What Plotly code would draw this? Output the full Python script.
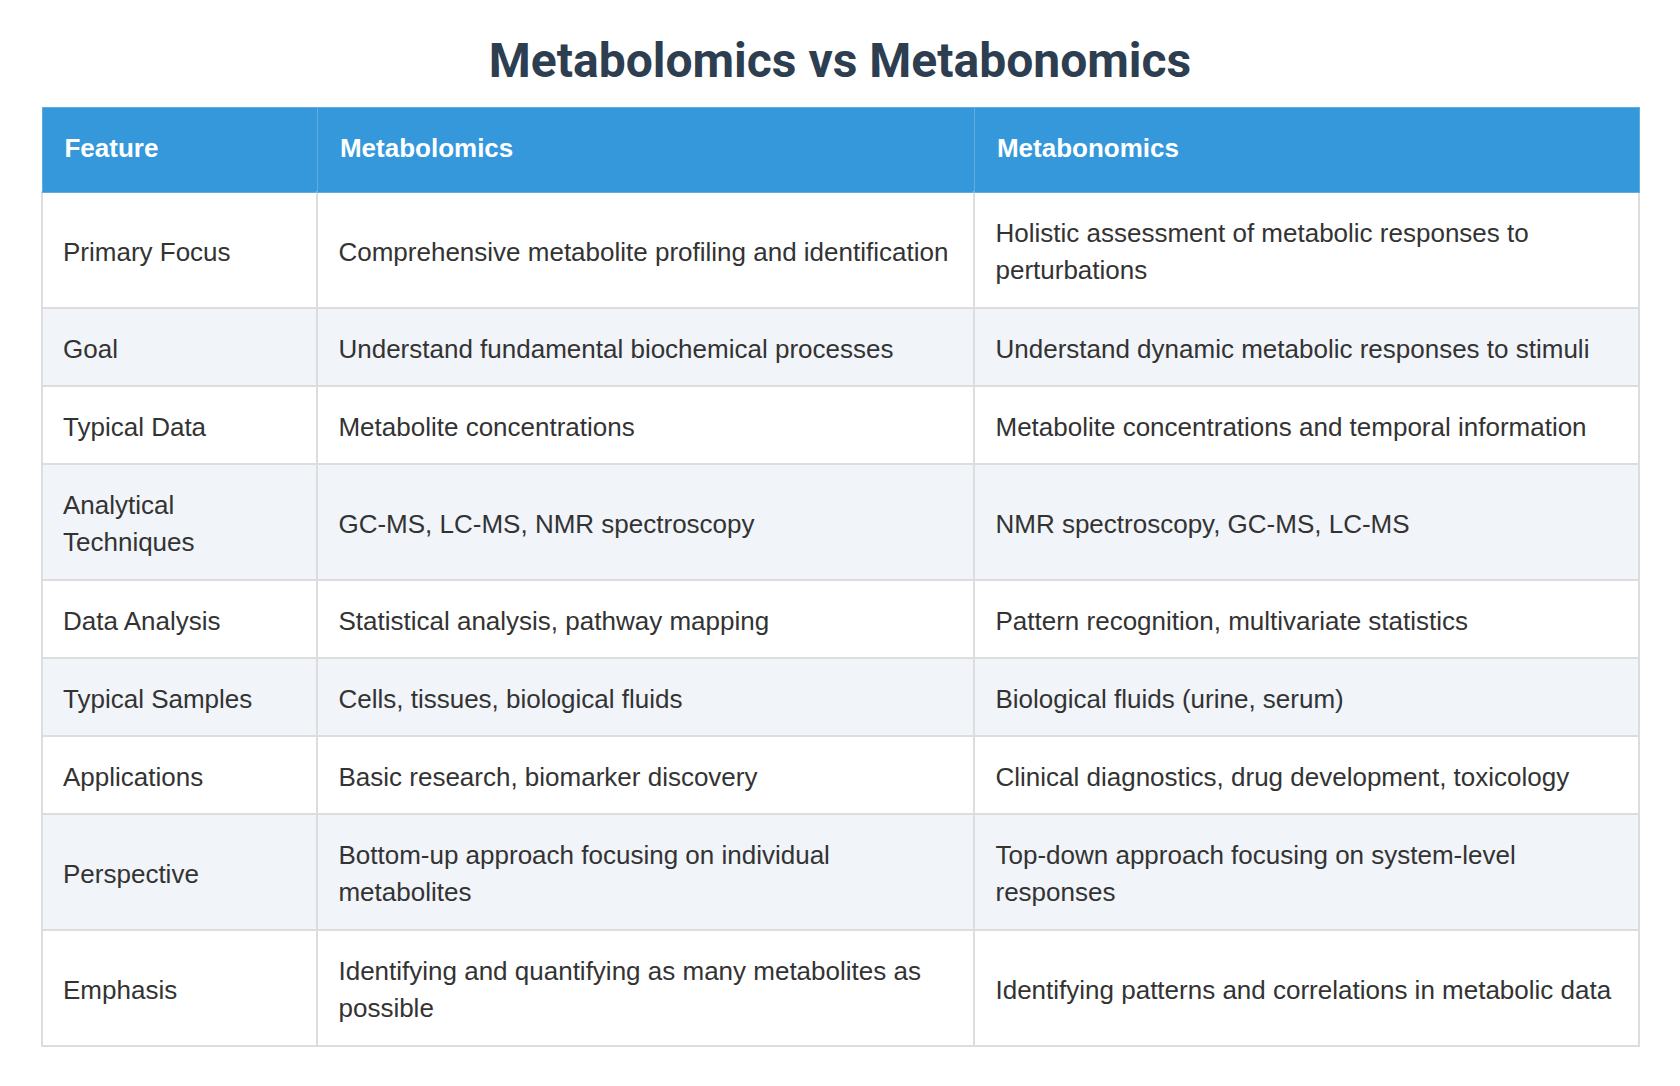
import plotly.graph_objects as go

# Tabela comparativa: Metabolomics x Metabonomics
headers = ["Feature", "Metabolomics", "Metabonomics"]

features = [
    "Primary Focus",
    "Goal",
    "Typical Data",
    "Analytical<br>Techniques",
    "Data Analysis",
    "Typical Samples",
    "Applications",
    "Perspective",
    "Emphasis",
]

metabolomics = [
    "Comprehensive metabolite profiling and identification",
    "Understand fundamental biochemical processes",
    "Metabolite concentrations",
    "GC-MS, LC-MS, NMR spectroscopy",
    "Statistical analysis, pathway mapping",
    "Cells, tissues, biological fluids",
    "Basic research, biomarker discovery",
    "Bottom-up approach focusing on individual<br>metabolites",
    "Identifying and quantifying as many metabolites as<br>possible",
]

metabonomics = [
    "Holistic assessment of metabolic responses to<br>perturbations",
    "Understand dynamic metabolic responses to stimuli",
    "Metabolite concentrations and temporal information",
    "NMR spectroscopy, GC-MS, LC-MS",
    "Pattern recognition, multivariate statistics",
    "Biological fluids (urine, serum)",
    "Clinical diagnostics, drug development, toxicology",
    "Top-down approach focusing on system-level<br>responses",
    "Identifying patterns and correlations in metabolic data",
]

# truque para centralizar o texto na vertical: fonte base pequena e
# linhas vazias antes/depois do texto (a tabela do plotly alinha no topo)
BASE = 7
TXT = 26
FILL = "\u00a0"
FILL_FIM = '<span style="font-size:12px">\u00a0</span>'


def montar(texto, n_linhas, negrito=False, recuo="\u2002"):
    linhas = texto.split("<br>")
    topo = 4 + 2 * (n_linhas - len(linhas))
    fim = 4 + 4 * (n_linhas - 1) + (2 if n_linhas > 1 else 0)
    partes = [FILL] * topo
    for i, lin in enumerate(linhas):
        if i > 0:
            partes += [FILL] * 3
        conteudo = f"<b>{recuo}{lin}</b>" if negrito else f"{recuo}{lin}"
        partes.append(f'<span style="font-size:{TXT}px">{conteudo}</span>')
    extra = fim - (len(partes) - 1)
    if extra > 0:
        partes += [FILL] * (extra - 1) + [FILL_FIM]
    return "<br>".join(partes)


colunas = [features, metabolomics, metabonomics]
n_por_linha = [max(len(c[i].split("<br>")) for c in colunas) for i in range(len(features))]
valores = [[montar(t, n) for t, n in zip(c, n_por_linha)] for c in colunas]
cabecalho = [montar(h, 1, negrito=True, recuo="\u00a0\u00a0") for h in headers]

row_colors = ["#ffffff" if i % 2 == 0 else "#f1f4f9" for i in range(len(features))]

fig = go.Figure(
    go.Table(
        columnwidth=[257, 613, 620],
        header=dict(
            values=cabecalho,
            fill_color="#3498db",
            line=dict(color="#5dade2", width=1),
            align="left",
            font=dict(family="Liberation Sans, Arial", size=BASE, color="white"),
            height=85,
        ),
        cells=dict(
            values=valores,
            fill_color=[row_colors] * 3,
            line=dict(color="#dddddd", width=2),
            align="left",
            font=dict(family="Liberation Sans, Arial", size=BASE, color="#333333"),
            height=78,
        ),
    )
)

fig.update_layout(
    title=dict(
        text="Metabolomics vs Metabonomics",
        x=0.5 - 8 / 1680,
        xanchor="center",
        y=1 - 52 / 1086,
        yanchor="middle",
        font=dict(family="Roboto", size=48, color="#2c3e50", weight="bold"),
    ),
    width=1680,
    height=1086,
    margin=dict(l=34, r=49, t=99, b=20),
    paper_bgcolor="white",
)

fig.write_html("out.html")
